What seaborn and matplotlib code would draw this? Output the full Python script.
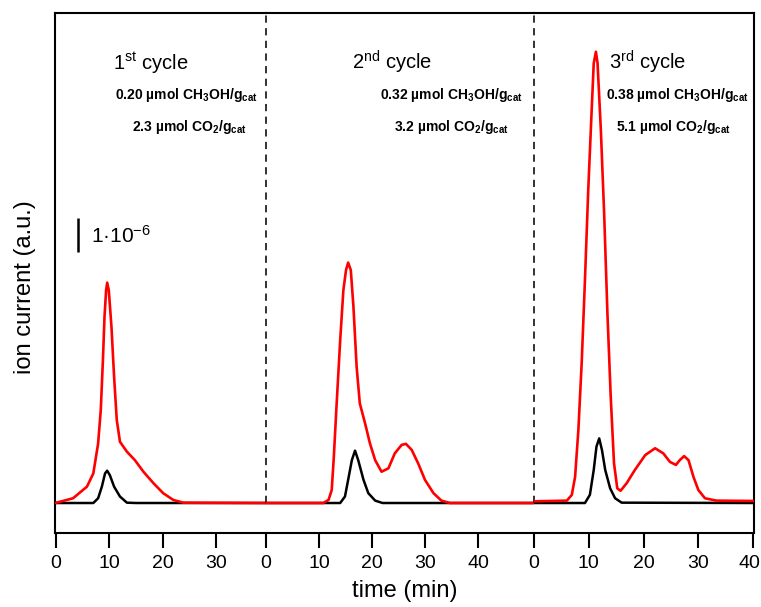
import matplotlib
matplotlib.use("Agg")
import matplotlib.pyplot as plt
import matplotlib.transforms as mtransforms
import seaborn as sns

# ---------------- data (time in min, ion current in units of 1e-6) ----------------
cycle_labels = ["1", "2", "3"]
cycle_sup = ["st", "nd", "rd"]
methanol_txt = ["0.20", "0.32", "0.38"]
co2_txt = ["2.3", "3.2", "5.1"]

xlims = [(-0.19, 39.4), (0.0, 50.57), (0.0, 40.15)]
xticks = [[0, 10, 20, 30], [0, 10, 20, 30, 40], [0, 10, 20, 30, 40]]

# cycle 1
t1_red = [0, 0.1, 3.2, 5.8, 7.0, 7.9, 8.4, 8.8, 9.1, 9.4, 9.6, 9.9, 10.4, 10.9, 11.4,
          12.0, 13.3, 14.8, 16.4, 18.3, 20.1, 22.0, 23.9, 39.4]
v1_red = [0.0, 0.01, 0.14, 0.48, 0.87, 1.75, 2.74, 4.2, 5.48, 6.26, 6.48, 6.26, 5.19,
          3.71, 2.44, 1.80, 1.51, 1.26, 0.92, 0.58, 0.29, 0.09, 0.01, 0.0]
t1_blk = [0, 7.0, 7.9, 8.6, 9.2, 9.6, 10.1, 10.9, 12.0, 13.3, 15.0, 39.4]
v1_blk = [0.0, 0.0, 0.14, 0.48, 0.87, 0.95, 0.82, 0.48, 0.19, 0.01, 0.0, 0.0]

# cycle 2
t2_red = [0, 10.8, 11.8, 12.4, 12.8, 13.3, 14.0, 14.6, 15.1, 15.5, 16.0, 16.5, 17.1,
          17.7, 18.7, 19.6, 20.6, 21.8, 23.1, 24.3, 25.6, 26.4, 27.5, 28.7, 30.0,
          31.6, 33.1, 34.7, 50.5]
v2_red = [0.0, 0.0, 0.09, 0.38, 1.36, 2.83, 4.79, 6.26, 6.85, 7.07, 6.85, 5.77, 4.01,
          2.93, 2.34, 1.76, 1.26, 0.92, 1.02, 1.46, 1.71, 1.74, 1.56, 1.17, 0.68,
          0.29, 0.07, 0.0, 0.0]
t2_blk = [0, 14.0, 14.9, 15.5, 16.2, 16.8, 17.4, 18.4, 19.3, 20.6, 22.0, 50.5]
v2_blk = [0.0, 0.0, 0.19, 0.68, 1.26, 1.54, 1.26, 0.68, 0.29, 0.07, 0.0, 0.0]

# cycle 3
t3_red = [0, 6.0, 6.9, 7.5, 8.1, 8.7, 9.3, 9.9, 10.5, 10.9, 11.3, 11.6, 12.2, 12.8,
          13.4, 14.0, 14.6, 15.2, 15.8, 16.9, 18.4, 20.3, 22.1, 23.6, 24.8, 25.9,
          26.6, 27.4, 28.2, 29.1, 30.0, 31.2, 33.3, 40.1]
v3_red = [0.05, 0.07, 0.24, 0.77, 2.15, 4.11, 6.56, 9.21, 11.46, 12.93, 13.27, 12.93,
          10.97, 8.52, 5.58, 3.13, 1.17, 0.43, 0.36, 0.58, 0.97, 1.41, 1.61, 1.46,
          1.21, 1.12, 1.26, 1.38, 1.26, 0.77, 0.38, 0.14, 0.07, 0.06]
t3_blk = [0, 9.3, 10.2, 10.9, 11.4, 11.9, 12.4, 13.0, 13.9, 14.8, 16.0, 40.1]
v3_blk = [0.0, 0.0, 0.24, 0.97, 1.66, 1.9, 1.56, 0.97, 0.43, 0.14, 0.01, 0.0]

reds = [(t1_red, v1_red), (t2_red, v2_red), (t3_red, v3_red)]
blacks = [(t1_blk, v1_blk), (t2_blk, v2_blk), (t3_blk, v3_blk)]

scale_bar = 1.0  # 1e-6
ylim = (-0.882, 14.41)

# ---------------- styling ----------------
sns.set_theme(style="white")
plt.rcParams["font.family"] = ["Liberation Sans", "DejaVu Sans"]
plt.rcParams["mathtext.default"] = "regular"
plt.rcParams["text.color"] = "black"
plt.rcParams["axes.labelcolor"] = "black"
plt.rcParams["xtick.color"] = "black"

W, H = 761, 607
fig = plt.figure(figsize=(W / 100, H / 100), dpi=100)

px_edges = [55, 266, 534, 754]
ax_top, ax_bot = 13, 533

def fx(x):
    return x / W

def fy(y):
    return 1 - y / H

axes = []
for i in range(3):
    l, r = px_edges[i], px_edges[i + 1]
    ax = fig.add_axes([fx(l), fy(ax_bot), (r - l) / W, (ax_bot - ax_top) / H])
    axes.append(ax)
    tr, vr = reds[i]
    tb, vb = blacks[i]
    sns.lineplot(x=tb, y=vb, ax=ax, color="black", lw=1.8, sort=False,
                 estimator=None, zorder=3)
    sns.lineplot(x=tr, y=vr, ax=ax, color="#ff0000", lw=1.9, sort=False,
                 estimator=None, zorder=4)
    ax.set_xlim(*xlims[i])
    ax.set_ylim(*ylim)
    ax.set_xticks(xticks[i])
    ax.set_xticklabels([str(v) for v in xticks[i]], fontsize=14, color="black")
    ax.set_yticks([])
    ax.set_xlabel("")
    ax.set_ylabel("")
    ax.set_facecolor("none")
    for s in ["left", "right", "top", "bottom"]:
        ax.spines[s].set_color("black")
        ax.spines[s].set_linewidth(1.5)
    ax.spines["left"].set_visible(i == 0)
    ax.spines["right"].set_visible(i == 2)
    ax.tick_params(axis="x", direction="out", length=11, width=1.5, pad=5,
                   colors="black", bottom=True)
    if i > 0:
        ax.vlines(0, 0, ylim[1], colors="#222222", linestyles=(0, (4, 3)),
                  lw=1.3, zorder=2, clip_on=False)

# nudge the last tick label so it stays inside the canvas
last_lab = axes[2].get_xticklabels()[-1]
last_lab.set_transform(last_lab.get_transform() +
                       mtransforms.ScaledTranslation(-4 / 100, 0, fig.dpi_scale_trans))

# scale bar
axes[0].vlines((78.3 - 56) / 5.33, (503 - 252) / 34, (503 - 252) / 34 + scale_bar,
               colors="black", lw=1.8)
fig.text(fx(90.7), fy(243), "1\u00b710$^{-6}$", fontsize=15, va="baseline",
         ha="left", color="black")

# cycle annotations
title_x = [112.7, 351.7, 609]
line_cx1 = [186.5, 451, 677.7]
line_cx2 = [189.7, 451, 673]
for i in range(3):
    fig.text(fx(title_x[i]), fy(69.5),
             cycle_labels[i] + "$^{" + cycle_sup[i] + "}$ cycle",
             fontsize=14.5, ha="left", va="baseline", color="black")
    fig.text(fx(line_cx1[i]), fy(99),
             methanol_txt[i] + " \u00b5mol CH$_3$OH/g$_{cat}$",
             fontsize=10, fontweight="bold", ha="center", va="baseline",
             color="black")
    fig.text(fx(line_cx2[i]), fy(131.5),
             co2_txt[i] + " \u00b5mol CO$_2$/g$_{cat}$",
             fontsize=10, fontweight="bold", ha="center", va="baseline",
             color="black")

fig.text(fx(405), fy(597), "time (min)", fontsize=17, ha="center", va="baseline",
         color="black")
fig.text(fx(25), fy(287), "ion current (a.u.)", fontsize=17, ha="center",
         va="center", rotation=90, color="black")

fig.savefig("out.png", dpi=100)
